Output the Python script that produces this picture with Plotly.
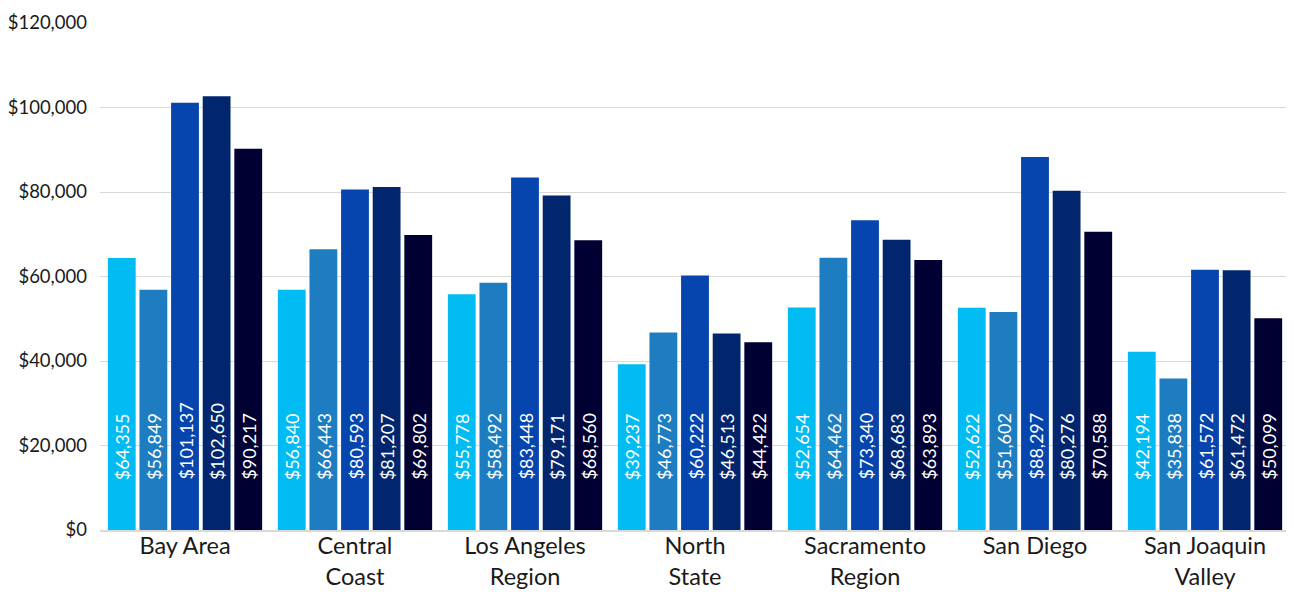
import plotly.graph_objects as go

regions = ["Bay Area", "Central<br>Coast", "Los Angeles<br>Region", "North<br>State",
           "Sacramento<br>Region", "San Diego", "San Joaquin<br>Valley"]
series1 = [64355, 56840, 55778, 39237, 52654, 52622, 42194]
series2 = [56849, 66443, 58492, 46773, 64462, 51602, 35838]
series3 = [101137, 80593, 83448, 60222, 73340, 88297, 61572]
series4 = [102650, 81207, 79171, 46513, 68683, 80276, 61472]
series5 = [90217, 69802, 68560, 44422, 63893, 70588, 50099]
series = [series1, series2, series3, series4, series5]
colors = ["#00BCF2", "#1E7DC0", "#0645AD", "#01266E", "#000033"]

FONT = "Lato"
TEXT = "#1A1A1A"
BARGAP = 0.07
n = len(series)
slot = (1 - BARGAP) / n

fig = go.Figure()
annotations = []
for i, vals in enumerate(series):
    fig.add_trace(go.Bar(
        x=regions, y=vals,
        marker=dict(color=colors[i], line=dict(width=0)),
        showlegend=False,
    ))
    for j, v in enumerate(vals):
        annotations.append(dict(
            x=j - (1 - BARGAP) / 2 + slot * (i + 0.5), y=0,
            xref="x", yref="y",
            text="${:,}".format(v), showarrow=False,
            textangle=-90, xanchor="center", yanchor="bottom", yshift=48,
            font=dict(family=FONT, size=18, color="white"),
        ))

fig.update_layout(
    width=1286, height=584,
    barmode="group", bargap=BARGAP, bargroupgap=0.12,
    margin=dict(l=92, r=4, t=15, b=62, autoexpand=False),
    plot_bgcolor="white", paper_bgcolor="white",
    font=dict(family=FONT, color=TEXT),
    annotations=annotations,
    xaxis=dict(
        showgrid=False, showline=True, linecolor="#D9D9D9", linewidth=1.5,
        tickfont=dict(family=FONT, size=23.5, color=TEXT),
        ticks="", ticklabelstandoff=-6, automargin=False,
    ),
    yaxis=dict(
        range=[0, 120000], dtick=20000, tickprefix="$", tickformat=",d",
        showgrid=True, gridcolor="#D9D9D9", gridwidth=1, zeroline=False,
        tickfont=dict(family=FONT, size=18.5, color=TEXT),
        ticks="", ticklabelstandoff=12, automargin=False,
    ),
)

fig.write_html("out.html")
